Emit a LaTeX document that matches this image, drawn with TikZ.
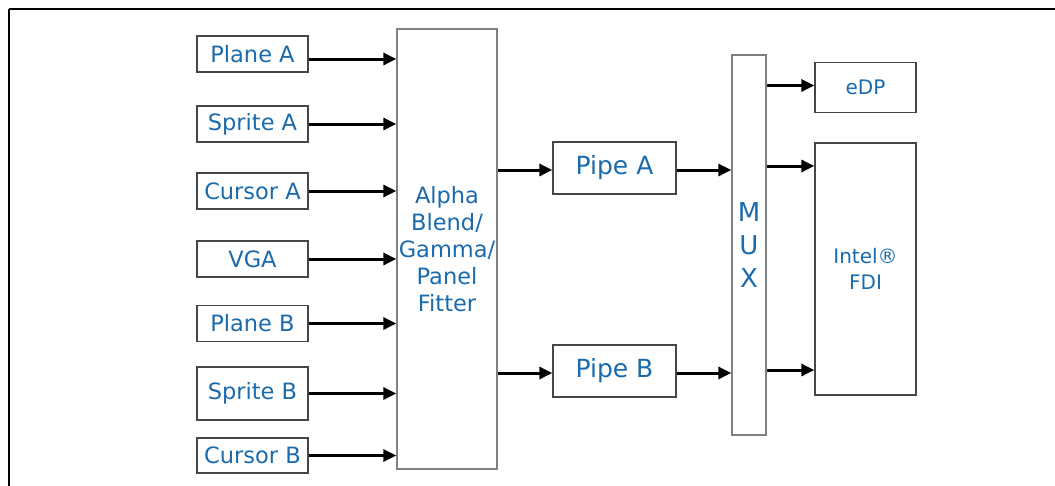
\documentclass[tikz,border=0pt]{standalone}
\usepackage{fontspec}
\setmainfont{DejaVu Sans}
\usetikzlibrary{arrows.meta,positioning}
\definecolor{txtblue}{RGB}{26,106,172}
\definecolor{boxgray}{RGB}{70,70,70}

\begin{document}
\begin{tikzpicture}[x=1pt,y=-1pt, box/.style={draw=boxgray,line width=1.3pt,align=center,text=txtblue,inner sep=0pt,font=\fontsize{22.5}{27}\selectfont}, src/.style={box,minimum width=111pt,minimum height=36pt}, >={Triangle[length=13pt,width=12pt]}, conn/.style={->,line width=3pt}]
\useasboundingbox (0,0) rectangle (1055,485);
\draw[line width=2pt] (9,9) -- (1070,9) (9,9) -- (9,500);
\node[src] (pa) at (252.5,54) {Plane A};
\node[src] (sa) at (252.5,124) {Sprite A};
\node[src] (ca) at (252.5,191) {Cursor A};
\node[src] (vga) at (252.5,259) {VGA};
\node[src] (pb) at (252.5,323.5) {Plane B};
\node[src,minimum height=53pt] (sb) at (252.5,393.5) {Sprite B};
\node[src,minimum height=35pt] (cb) at (252.5,455.5) {Cursor B};
\node[box,draw=gray,minimum width=100pt,minimum height=440pt] (blend) at (447,249) {Alpha\\Blend/\\Gamma/\\Panel\\Fitter};
\node[box,minimum width=123pt,minimum height=52pt,font=\fontsize{25}{29}\selectfont] (pipea) at (614.5,168) {Pipe A};
\node[box,minimum width=123pt,minimum height=52pt,font=\fontsize{25}{29}\selectfont] (pipeb) at (614.5,371) {Pipe B};
\node[box,draw=gray,minimum width=34pt,minimum height=380pt,font=\fontsize{26}{33}\selectfont] (mux) at (749,245) {M\\U\\X};
\node[box,minimum width=101pt,minimum height=50pt,font=\fontsize{20}{25}\selectfont] (edp) at (865.5,87.5) {eDP};
\node[box,minimum width=101pt,minimum height=252pt,font=\fontsize{20}{26}\selectfont] (fdi) at (865.5,269) {Intel®\\FDI};
% inputs into the blender
\draw[conn] ([yshift=-5pt]pa.east) -- ([yshift=-5pt]pa.east -| blend.west);
\foreach \s in {sa,ca,vga,pb,sb,cb} \draw[conn] (\s.east) -- (\s.east -| blend.west);
% pipes and mux
\draw[conn] ([yshift=-2pt]blend.east |- pipea) -- ([yshift=-2pt]pipea.west); \draw[conn] ([yshift=-2pt]blend.east |- pipeb) -- ([yshift=-2pt]pipeb.west);
\draw[conn] ([yshift=-2pt]pipea.east) -- ([yshift=-2pt]mux.west |- pipea); \draw[conn] ([yshift=-2pt]pipeb.east) -- ([yshift=-2pt]mux.west |- pipeb);
\draw[conn] ([yshift=2pt]mux.east |- edp) -- ([yshift=2pt]edp.west);
\draw[conn] ([yshift=2pt]mux.east |- pipea) -- ([yshift=2pt]fdi.west |- pipea); \draw[conn] ([yshift=1pt]mux.east |- pipeb) -- ([yshift=1pt]fdi.west |- pipeb);
\end{tikzpicture}
\end{document}
